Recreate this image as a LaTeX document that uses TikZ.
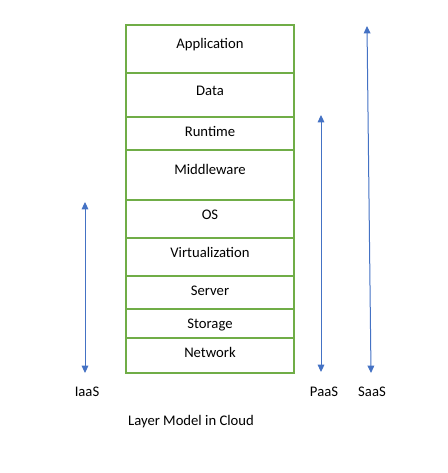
\documentclass[tikz,border=0pt]{standalone}
\usepackage{fontspec}
\setmainfont{Carlito}
\usetikzlibrary{arrows.meta,positioning}
\definecolor{LayerGreen}{RGB}{112,173,71}
\definecolor{SpanBlue}{RGB}{68,114,196}
\tikzset{
  layer/.style={draw=LayerGreen,line width=1.1pt,minimum width=126pt,
    inner sep=0pt,outer sep=0pt},
  tag/.style={anchor=mid,inner sep=0pt,font=\fontsize{11}{13}\selectfont},
  span/.style={{Triangle[length=5.5pt,width=5pt]}-{Triangle[length=5.5pt,width=5pt]},
    line width=0.75pt,SpanBlue},
  model/.style={font=\fontsize{11}{13}\selectfont,inner sep=0pt}
}

\begin{document}
\begin{tikzpicture}[
  x=0.75pt,y=-0.75pt,
  node distance=0pt
]
\useasboundingbox (0,0) rectangle (447,473);

% layer stack
\node[layer,minimum height=36pt,anchor=north,
  label={[tag,yshift=-15.5pt]north:Application}] (app) at (210,25) {};
\node[layer,minimum height=33pt,below=of app,
  label={[tag,yshift=-14.25pt]north:Data}] (data) {};
\node[layer,minimum height=24.75pt,below=of data,
  label={[tag,yshift=-12pt]north:Runtime}] (runtime) {};
\node[layer,minimum height=37.5pt,below=of runtime,
  label={[tag,yshift=-15.75pt]north:Middleware}] (middle) {};
\node[layer,minimum height=28.5pt,below=of middle,
  label={[tag,yshift=-12pt]north:OS}] (os) {};
\node[layer,minimum height=28.5pt,below=of os,
  label={[tag,yshift=-12.5pt]north:Virtualization}] (virt) {};
\node[layer,minimum height=24.75pt,below=of virt,
  label={[tag,yshift=-12.5pt]north:Server}] (server) {};
\node[layer,minimum height=21.75pt,below=of server,
  label={[tag,yshift=-12.5pt]north:Storage}] (storage) {};
\node[layer,minimum height=26.25pt,below=of storage,
  label={[tag,yshift=-12.5pt]north:Network}] (network) {};

% service models
\node[model] (iaas) at (87,392) {IaaS};
\node[model] (paas) at (324,392) {PaaS};
\node[model] (saas) at (372,392) {SaaS};

\coordinate (iaasTop) at (85,202);
\coordinate (iaasBot) at (85,373);
\coordinate (paasTop) at (321,115);
\coordinate (paasBot) at (321,372);
\coordinate (saasTop) at (367,26);
\coordinate (saasBot) at (371,373);

\draw[span] (iaasTop) -- (iaasBot);
\draw[span] (paasTop) -- (paasBot);
\draw[span] (saasTop) -- (saasBot);

\node[model] (caption) at (191,422) {Layer Model in Cloud};

\end{tikzpicture}
\end{document}
